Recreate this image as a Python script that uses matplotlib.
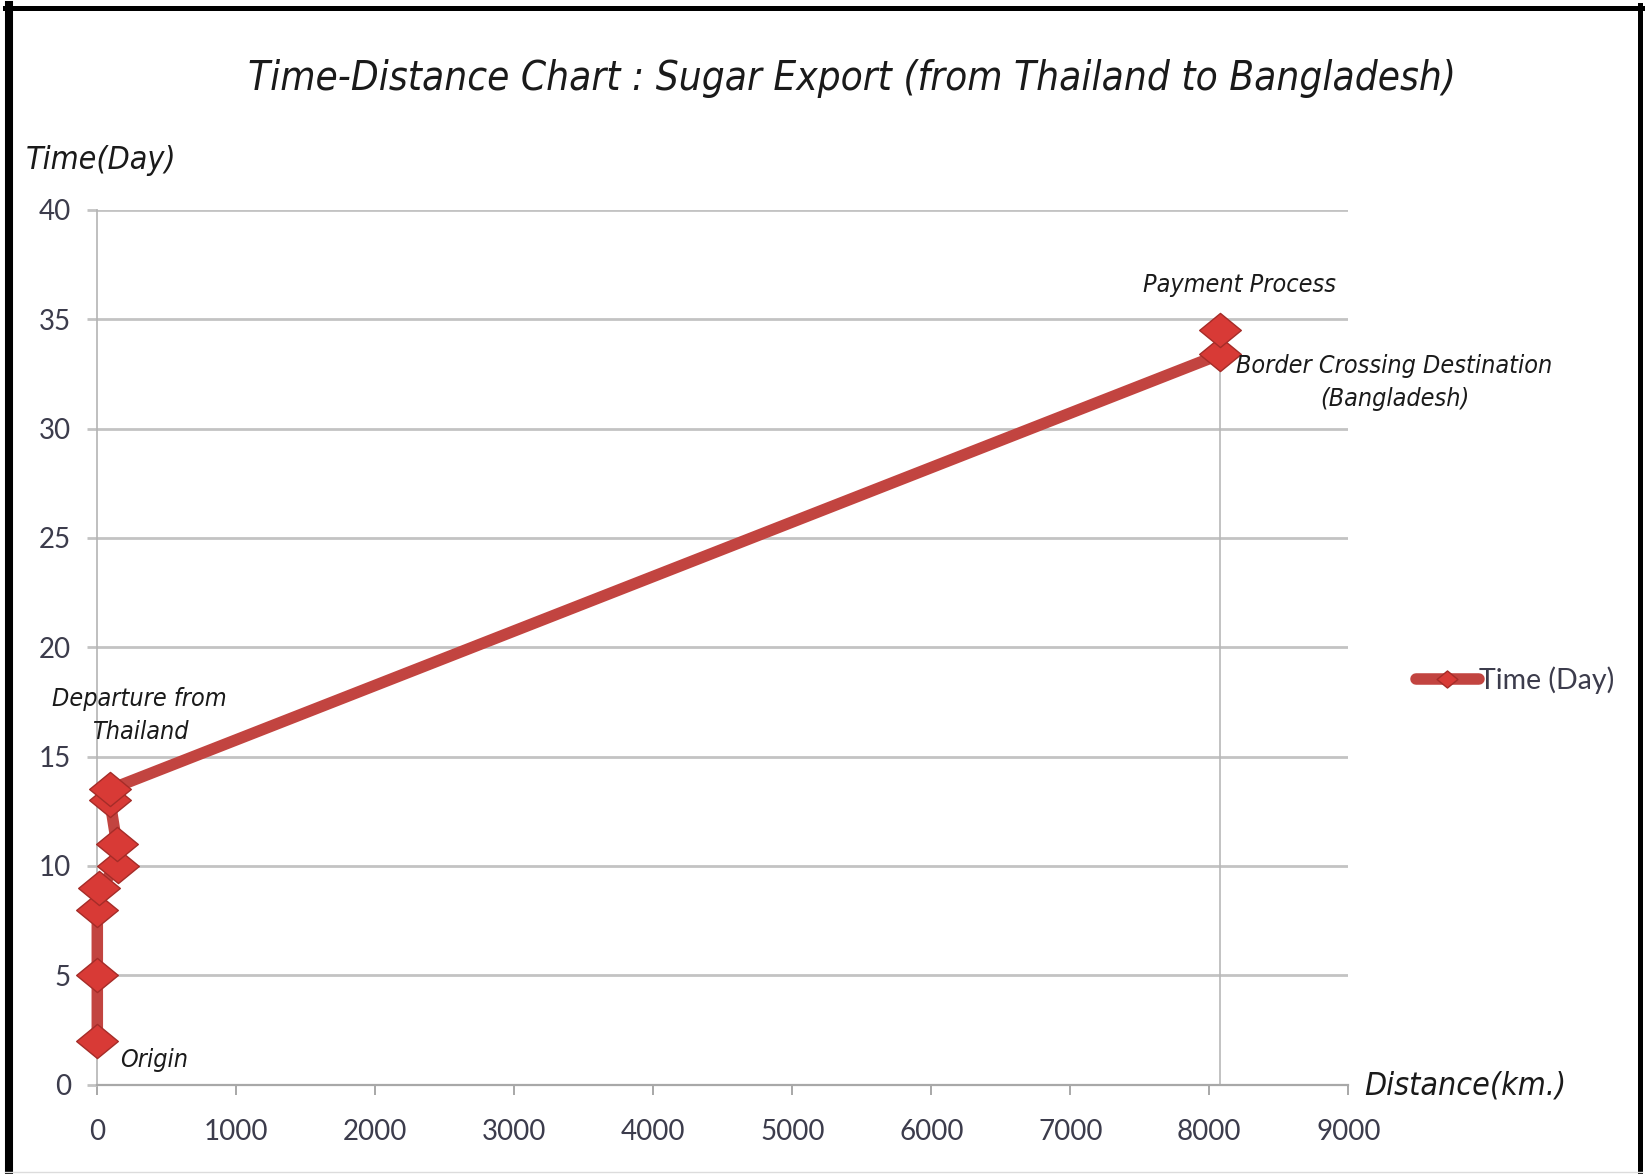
import matplotlib
matplotlib.use("Agg")
import matplotlib.pyplot as plt
from matplotlib.lines import Line2D
from matplotlib.path import Path

# Route milestones: cumulative distance travelled and elapsed time
distance_km = [0, 0, 0, 12, 150, 140, 90, 90, 8080, 8080]
time_day = [2, 5, 8, 9, 10, 11, 13, 13.5, 33.4, 34.5]
point_labels = ["Origin", "", "", "", "", "", "", "Departure from\nThailand",
                "Border Crossing Destination\n(Bangladesh)", "Payment Process"]

x_ticks = [0, 1000, 2000, 3000, 4000, 5000, 6000, 7000, 8000, 9000]
y_ticks = [0, 5, 10, 15, 20, 25, 30, 35, 40]

title_text = "Time-Distance Chart : Sugar Export (from Thailand to Bangladesh)"
series_name = "Time (Day)"
y_title = "Time(Day)"
x_title = "Distance(km.)"

# label placement relative to its point, in pixels
label_offsets = {
    "Origin": (57, -19),
    "Departure from\nThailand": (30, 74),
    "Border Crossing Destination\n(Bangladesh)": (174, -28),
    "Payment Process": (19, 45),
}

W, H, DPI = 1645, 1174, 100
fig = plt.figure(figsize=(W / DPI, H / DPI), dpi=DPI)
fig.patch.set_facecolor("white")

ax = fig.add_axes([97.3 / W, 1 - 1084.5 / H, (1348.3 - 97.3) / W, (1084.5 - 210) / H])
ax.set_xlim(x_ticks[0], x_ticks[-1])
ax.set_ylim(y_ticks[0], y_ticks[-1])
ax.set_xticks(x_ticks)
ax.set_yticks(y_ticks)

narrow = dict(family=["DejaVu Sans"], stretch="condensed", style="oblique",
              color="#1a1a1a")
tick_font = "Lato"
tick_color = "#3c3c4c"
grid_color = "#c3c3c3"

for s in ("top", "right"):
    ax.spines[s].set_visible(False)
ax.spines["left"].set_color("#b4b4b4")
ax.spines["left"].set_linewidth(1.2)
ax.spines["bottom"].set_color("#a8a8a8")
ax.spines["bottom"].set_linewidth(1.6)

ax.yaxis.grid(True, color=grid_color, linewidth=2.0)
ax.set_axisbelow(True)
ax.tick_params(axis="y", length=7, width=2.0, color=grid_color, pad=12,
               labelsize=20, labelcolor=tick_color)
ax.tick_params(axis="x", length=7, width=1.4, color="#a8a8a8", pad=18,
               labelsize=20, labelcolor=tick_color)
for lab in ax.get_xticklabels() + ax.get_yticklabels():
    lab.set_fontfamily(tick_font)

# drop line under the destination point
ax.vlines(distance_km[-2], 0, time_day[-2], color="#b8b8b8", linewidth=1.2, zorder=1)

# squat diamond marker
diamond = Path([(-1, 0), (0, 0.82), (1, 0), (0, -0.82), (-1, 0)],
               [Path.MOVETO, Path.LINETO, Path.LINETO, Path.LINETO, Path.CLOSEPOLY])

ax.plot(distance_km, time_day, color="#c24440", linewidth=8.3,
        solid_capstyle="round", solid_joinstyle="round",
        marker=diamond, markersize=30, markerfacecolor="#d83a36",
        markeredgecolor="#a52c28", markeredgewidth=1.0,
        label=series_name, zorder=3, clip_on=False)

for x, y, txt in zip(distance_km, time_day, point_labels):
    if not txt:
        continue
    ax.annotate(txt, xy=(x, y), xytext=label_offsets[txt], textcoords="offset pixels",
                ha="center", va="center", fontsize=18, linespacing=1.45,
                annotation_clip=False, zorder=4, **narrow)

fig.text(852 / W, 1 - 79 / H, title_text, ha="center", va="center",
         fontsize=29, **narrow)
fig.text(26 / W, 1 - 160 / H, y_title, ha="left", va="center", fontsize=23, **narrow)
fig.text(1364 / W, 1 - 1086 / H, x_title, ha="left", va="center", fontsize=23, **narrow)

leg = fig.legend(loc="center left", bbox_to_anchor=(1416 / W, 1 - 680 / H),
                 frameon=False, handlelength=2.2, handletextpad=0.0,
                 borderaxespad=0, borderpad=0, markerscale=0.5,
                 prop={"family": tick_font, "size": 20.5})
for t in leg.get_texts():
    t.set_color(tick_color)

# frame round the whole picture
fig.add_artist(Line2D([9 / W, 9 / W], [0, 1 - 5 / H], transform=fig.transFigure,
                      color="black", linewidth=5.8))
fig.add_artist(Line2D([5 / W, 1642 / W], [1 - 7.5 / H, 1 - 7.5 / H],
                      transform=fig.transFigure, color="black", linewidth=3.6))
fig.add_artist(Line2D([1639.5 / W, 1639.5 / W], [0, 1 - 5 / H],
                      transform=fig.transFigure, color="black", linewidth=3.6))
fig.add_artist(Line2D([5 / W, 1642 / W], [1 - 1172 / H, 1 - 1172 / H],
                      transform=fig.transFigure, color="#dcdcdc", linewidth=1.0))

fig.savefig("out.png", dpi=DPI, facecolor="white")
